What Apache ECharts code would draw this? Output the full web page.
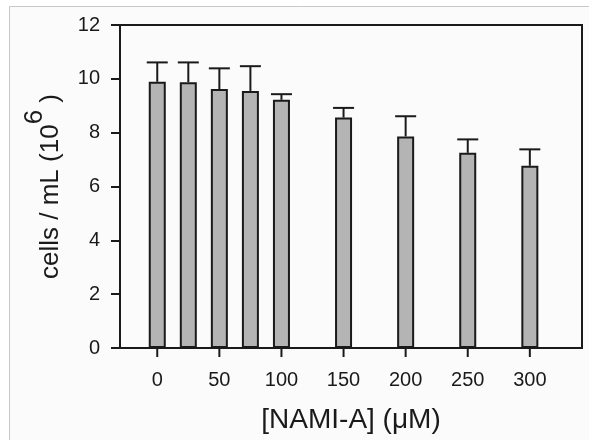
<!DOCTYPE html>
<html>
<head>
<meta charset="utf-8">
<script src="https://cdn.jsdelivr.net/npm/echarts@6/dist/echarts.min.js"></script>
<style>
html,body{margin:0;padding:0;background:#fff;}
#chart{width:589px;height:440px;}
</style>
</head>
<body>
<div id="chart"></div>
<script>
// NAMI-A concentration (µM)
var concentrations = [0, 25, 50, 75, 100, 150, 200, 250, 300];
// cells / mL (10^6)
var meanValues = [9.89, 9.87, 9.62, 9.55, 9.22, 8.56, 7.86, 7.25, 6.77];
var errorValues = [0.72, 0.74, 0.77, 0.92, 0.21, 0.36, 0.75, 0.50, 0.61];
var xTicks = [0, 50, 100, 150, 200, 250, 300];
var yTicks = [0, 2, 4, 6, 8, 10, 12];

var barData = concentrations.map(function (c, i) { return [c, meanValues[i]]; });
var errData = concentrations.map(function (c, i) { return [c, meanValues[i], errorValues[i]]; });
var tickData = xTicks.map(function (t) { return [t, 0]; });

var FONT = '"Liberation Sans", Arial, sans-serif';
var INK = '#1a1a1a';
var chart = echarts.init(document.getElementById('chart'), null, {renderer: 'canvas'});
chart.setOption({
  animation: false,
  backgroundColor: '#ffffff',
  graphic: [{
    type: 'rect', z: -10, silent: true,
    shape: {x: 9.5, y: 6.5, width: 600, height: 450},
    style: {fill: '#fbfbfb', stroke: '#c8c8c8', lineWidth: 1}
  }],
  grid: {left: 120, top: 25, right: 7, bottom: 92, outerBoundsMode: 'none', containLabel: false,
    show: true, borderColor: INK, borderWidth: 2, backgroundColor: 'transparent'},
  xAxis: {
    type: 'value', min: -30, max: 342,
    name: '[NAMI-A] (\u03bcM)', nameLocation: 'middle', nameGap: 58,
    nameTextStyle: {fontFamily: FONT, fontSize: 28, color: INK},
    axisLine: {show: true, onZero: false, lineStyle: {color: INK, width: 2}},
    axisTick: {show: false},
    axisLabel: {fontFamily: FONT, fontSize: 20, color: INK, margin: 22,
      customValues: xTicks},
    splitLine: {show: false}
  },
  yAxis: {
    type: 'value', min: 0, max: 12, interval: 2,
    name: '{a|cells / mL (10}{s|6}{a| )}', nameLocation: 'middle', nameGap: 56, nameRotate: 90,
    nameTextStyle: {
      fontFamily: FONT, fontSize: 26, color: INK,
      rich: {
        a: {fontFamily: FONT, fontSize: 26, color: INK, padding: [16, 0, 0, 0]},
        s: {fontFamily: FONT, fontSize: 26, color: INK, padding: [0, 0, 16, 0]}
      }
    },
    axisLine: {show: true, onZero: false, lineStyle: {color: INK, width: 2}},
    axisTick: {show: true, inside: false, length: 9, lineStyle: {color: INK, width: 2}},
    axisLabel: {fontFamily: FONT, fontSize: 20, color: INK, margin: 20,
      formatter: function (v) { return yTicks.indexOf(v) >= 0 ? String(v) : ''; }},
    splitLine: {show: false}
  },
  series: [{
    type: 'bar',
    data: barData,
    barWidth: 17,
    itemStyle: {color: '#b4b4b4', borderColor: INK, borderWidth: 2},
    z: 2
  }, {
    type: 'custom',
    data: errData,
    z: 1,
    renderItem: function (params, api) {
      var x = api.value(0), m = api.value(1), e = api.value(2);
      var p0 = api.coord([x, m]);
      var p1 = api.coord([x, m + e]);
      var hw = 10.5;
      return {
        type: 'group',
        children: [
          {type: 'line', shape: {x1: p0[0], y1: p0[1], x2: p1[0], y2: p1[1]}, style: {stroke: INK, lineWidth: 2}},
          {type: 'line', shape: {x1: p1[0] - hw, y1: p1[1], x2: p1[0] + hw, y2: p1[1]}, style: {stroke: INK, lineWidth: 2}}
        ]
      };
    }
  }, {
    // x-axis tick marks at the labelled concentrations
    type: 'custom',
    data: tickData,
    z: 3,
    clip: false,
    renderItem: function (params, api) {
      var p = api.coord([api.value(0), api.value(1)]);
      return {type: 'line', shape: {x1: p[0], y1: p[1], x2: p[0], y2: p[1] + 9}, style: {stroke: INK, lineWidth: 2}};
    }
  }]
});
</script>
</body>
</html>
